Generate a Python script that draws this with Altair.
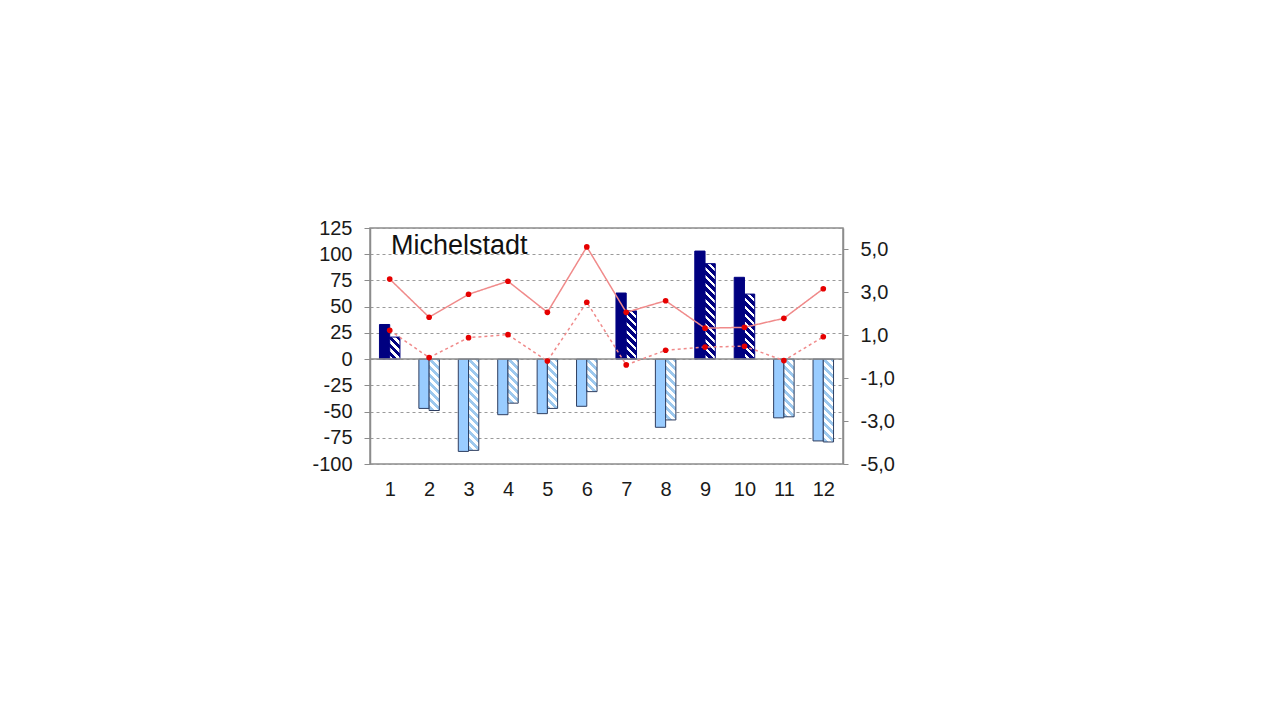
import altair as alt
import pandas as pd

# ---------------- data ----------------
cats = list(range(1, 13))
bar_solid = [33, -47, -88, -53, -52, -45, 63, -65, 103, 78, -56, -78]
bar_hatch = [21, -49, -87, -42, -47, -31, 46, -58, 91, 62, -55, -79]
line_solid = [3.62, 1.84, 2.91, 3.52, 2.07, 5.12, 2.07, 2.61, 1.33, 1.37, 1.79, 3.17]
line_dashed = [1.23, -0.04, 0.89, 1.03, -0.20, 2.54, -0.38, 0.30, 0.45, 0.49, -0.18, 0.93]
left_ticks = [-100, -75, -50, -25, 0, 25, 50, 75, 100, 125]
right_ticks = [-5, -3, -1, 1, 3, 5]
title_text = "Michelstadt"

# ---------------- style ----------------
FONT = "Liberation Sans"
NAVY = "#000080"
LIGHT = "#99CCFF"
LIGHT_HATCH = "#9CC8EE"
NEG_STROKE = "#2E3E60"
LINE_COL = "#F08A8A"
DOT_COL = "#E60000"
FRAME = "#8C8C8C"
W, H = 473, 236
LEFT_DOMAIN = [-100, 125]
RIGHT_DOMAIN = [-5, 6]
BAR_FRAC = 0.26
PX_PER_UNIT = H / (LEFT_DOMAIN[1] - LEFT_DOMAIN[0])
BAR_W_PX = BAR_FRAC * W / 12
HATCH_PERIOD = 8.0
LABEL_SIZE = 20

df = pd.DataFrame({"cat": cats, "a": bar_solid, "b": bar_hatch})
df_lines = pd.DataFrame({
    "cat": cats + cats,
    "value": line_solid + line_dashed,
    "series": ["s"] * 12 + ["d"] * 12,
})

xscale = alt.Scale(domain=[0.5, 12.5], nice=False, zero=False)
xaxis = alt.Axis(values=cats, format="d", ticks=False, domain=False, grid=False,
                 labelFontSize=LABEL_SIZE, labelPadding=15, title=None, labelFlush=False)
yscale = alt.Scale(domain=LEFT_DOMAIN, nice=False, zero=False)
yaxis = alt.Axis(values=left_ticks, grid=True, gridDash=[3, 3], gridColor="#9A9A9A",
                 gridWidth=1, tickSize=6, tickColor=FRAME, domainColor=FRAME,
                 domainWidth=1.5, labelFontSize=LABEL_SIZE, labelPadding=12, title=None,
                 labelExpr="replace(format(datum.value, 'd'), '\u2212', '-')")
rscale = alt.Scale(domain=RIGHT_DOMAIN, nice=False, zero=False)
raxis = alt.Axis(orient="right", values=right_ticks, grid=False, tickSize=5,
                 tickColor=FRAME, domainColor=FRAME, domainWidth=1.5,
                 labelFontSize=LABEL_SIZE, labelPadding=12, title=None,
                 labelExpr="replace(replace(format(datum.value, '.1f'), '.', ','), '\u2212', '-')")


def hatch_fill(v, fg, fg_frac=0.5):
    h = abs(v) * PX_PER_UNIT
    w = BAR_W_PX
    c = (h + w) / (w * w + h * h)
    n = (h + w) / HATCH_PERIOD
    stops = [alt.GradientStop(color=fg, offset=0)]
    cur = fg
    t = fg_frac / n
    while t < 1:
        nxt = "#FFFFFF" if cur == fg else fg
        stops.append(alt.GradientStop(color=cur, offset=t))
        stops.append(alt.GradientStop(color=nxt, offset=t))
        t += ((1 - fg_frac) if cur == fg else fg_frac) / n
        cur = nxt
    stops.append(alt.GradientStop(color=cur, offset=1))
    return alt.LinearGradient(gradient="linear", stops=stops,
                              x1=1, y1=0, x2=1 - c * w, y2=c * h)


solid_bars = alt.Chart(df).transform_calculate(
    x0=f"datum.cat - {BAR_FRAC}", x1="datum.cat"
).mark_rect(strokeWidth=1).encode(
    x=alt.X("x0:Q", scale=xscale, axis=xaxis),
    x2="x1:Q",
    y=alt.Y("a:Q", scale=yscale, axis=yaxis),
    y2=alt.datum(0),
    fill=alt.condition("datum.a > 0", alt.value(NAVY), alt.value(LIGHT)),
    stroke=alt.condition("datum.a > 0", alt.value(NAVY), alt.value(NEG_STROKE)),
)

hatch_layers = []
for c_, v in zip(cats, bar_hatch):
    pos = v > 0
    fill = hatch_fill(v, NAVY if pos else LIGHT_HATCH, 0.58 if pos else 0.5)
    hatch_layers.append(
        alt.Chart(df).transform_filter(f"datum.cat == {c_}").transform_calculate(
            x0="datum.cat", x1=f"datum.cat + {BAR_FRAC}"
        ).mark_rect(fill=fill, stroke=NAVY if pos else NEG_STROKE, strokeWidth=1).encode(
            x=alt.X("x0:Q", scale=xscale, axis=xaxis),
            x2="x1:Q",
            y=alt.Y("b:Q", scale=yscale, axis=yaxis),
            y2=alt.datum(0),
        )
    )

zero_rule = alt.Chart(pd.DataFrame({"z": [0]})).mark_rule(
    color=FRAME, strokeWidth=1.5
).encode(y=alt.Y("z:Q", scale=yscale, axis=yaxis))

bars = alt.layer(solid_bars, *hatch_layers, zero_rule)

lines = alt.Chart(df_lines).mark_line(color=LINE_COL, strokeWidth=1.5).encode(
    x=alt.X("cat:Q", scale=xscale, axis=xaxis),
    y=alt.Y("value:Q", scale=rscale, axis=raxis),
    strokeDash=alt.StrokeDash("series:N", scale=alt.Scale(domain=["s", "d"], range=[[1, 0], [3, 3]]),
                              legend=None),
)
dots = alt.Chart(df_lines).mark_point(filled=True, color=DOT_COL, size=32, opacity=1).encode(
    x=alt.X("cat:Q", scale=xscale, axis=xaxis),
    y=alt.Y("value:Q", scale=rscale, axis=raxis),
    detail="series:N",
)
line_layer = alt.layer(lines, dots)

chart = alt.layer(bars, line_layer).resolve_scale(y="independent").properties(
    width=W, height=H,
    padding={"left": 362, "top": 220, "right": 100, "bottom": 100},
    autosize=alt.AutoSizeParams(type="none"),
    title=alt.TitleParams(title_text, anchor="start", frame="group", fontSize=27,
                          font=FONT, fontWeight="normal", color="#111111",
                          baseline="alphabetic", dx=21, dy=63, offset=0),
).configure_view(stroke=FRAME, strokeWidth=1.5).configure_axis(
    labelFont=FONT, labelColor="#1A1A1A"
)

chart.save("out.html", embed_options={"renderer": "svg", "actions": False})
